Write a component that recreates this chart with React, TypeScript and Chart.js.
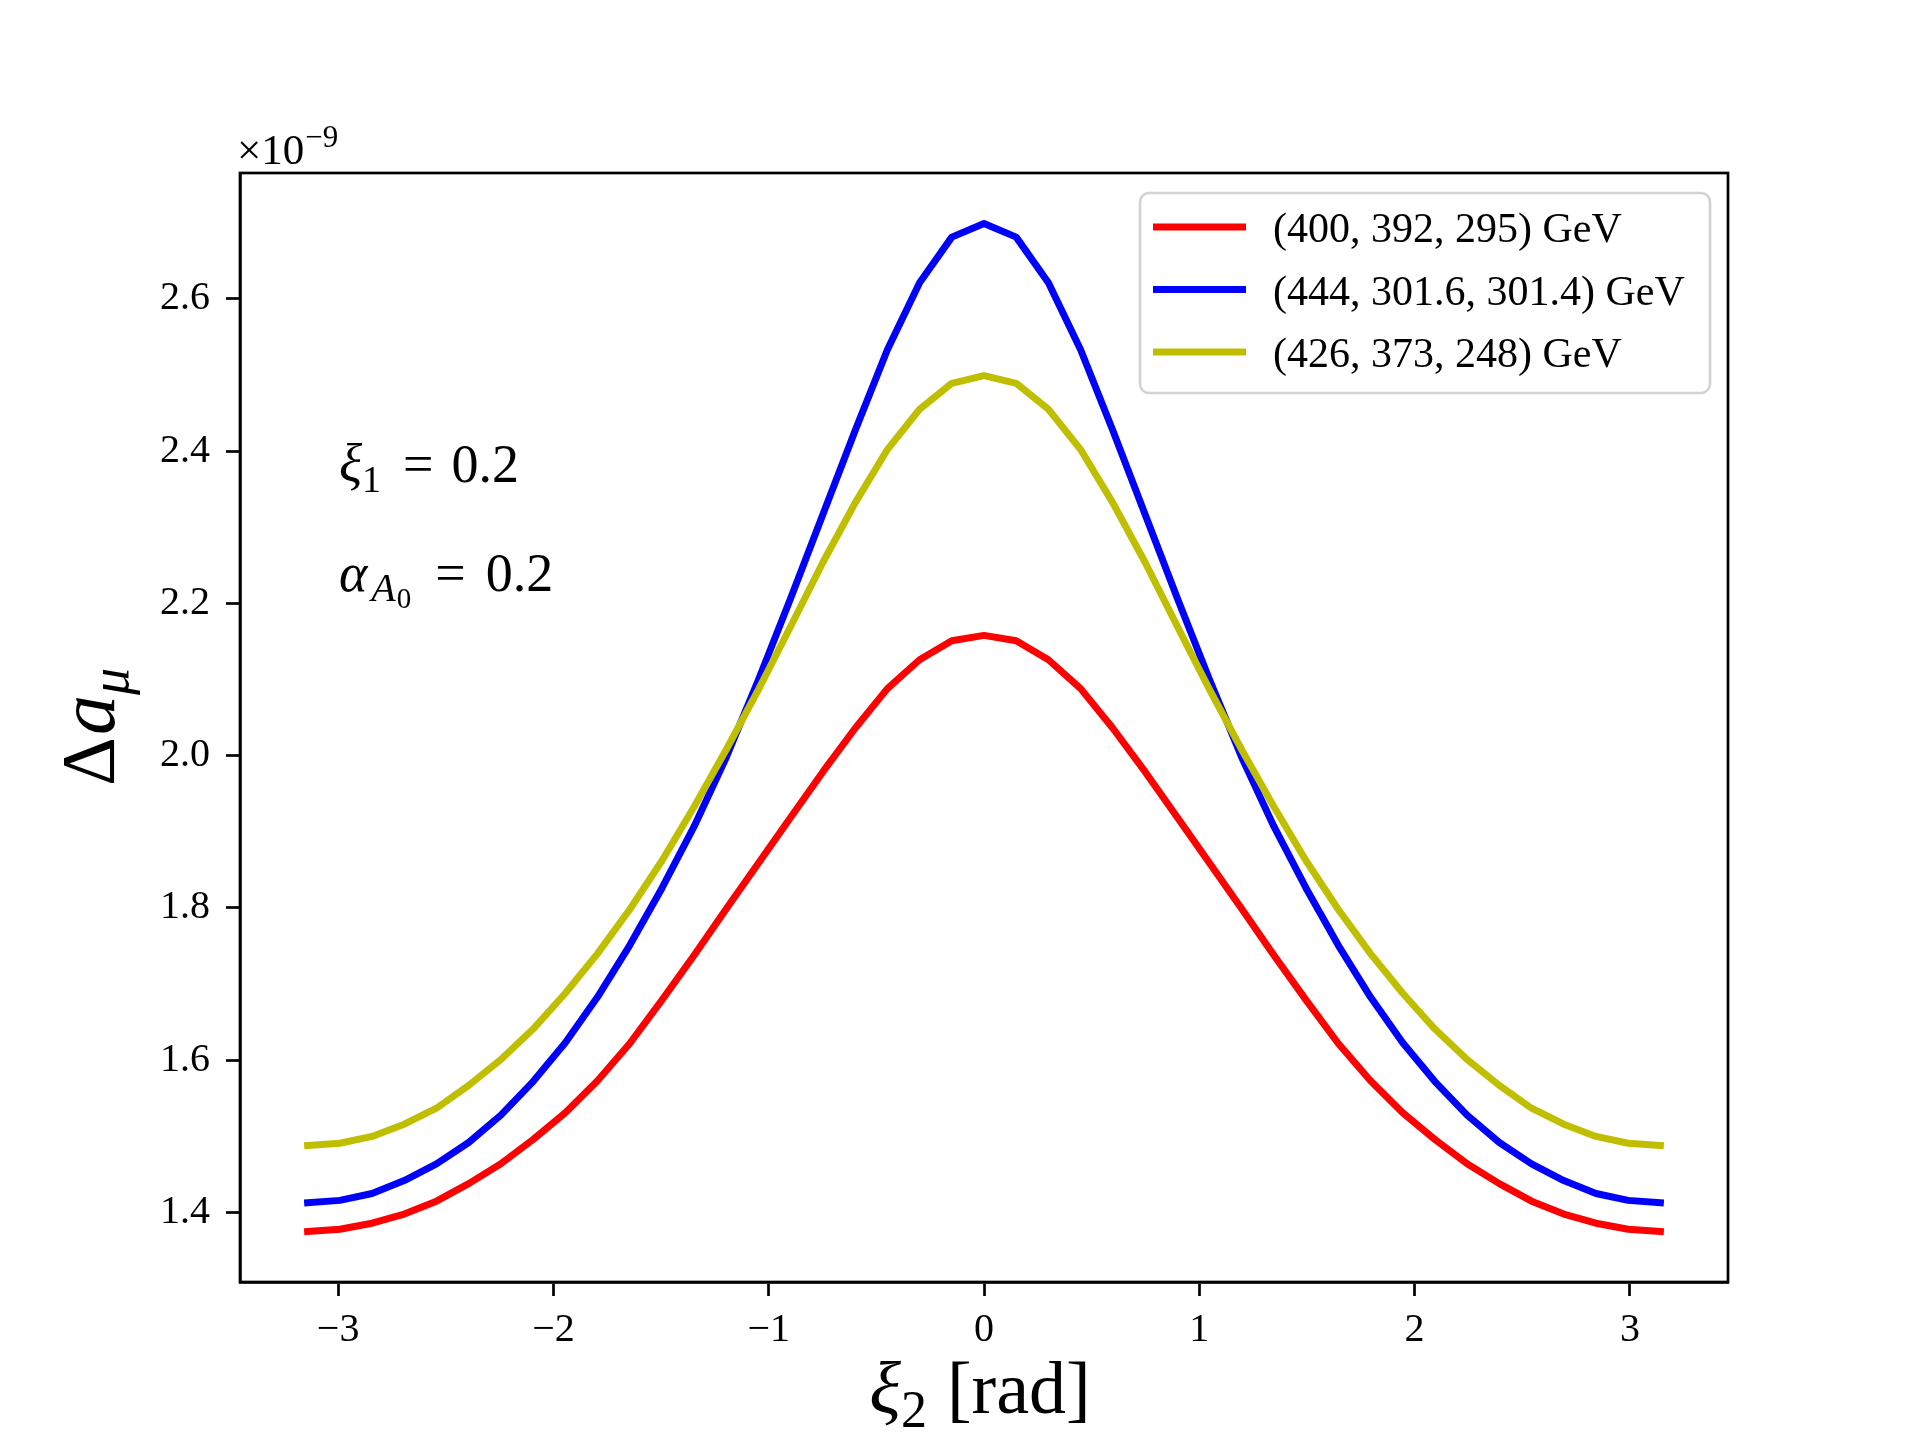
import React, { useEffect, useRef } from "react";
import { Chart, registerables } from "chart.js";

Chart.register(...registerables);

// xi_2 values [rad]
const XI2 = [
  -3.1416, -2.992, -2.8424, -2.6928, -2.5432, -2.3936, -2.244, -2.0944, -1.9448, -1.7952, -1.6456,
  -1.496, -1.3464, -1.1968, -1.0472, -0.8976, -0.748, -0.5984, -0.4488, -0.2992, -0.1496, 0,
  0.1496, 0.2992, 0.4488, 0.5984, 0.748, 0.8976, 1.0472, 1.1968, 1.3464, 1.496, 1.6456,
  1.7952, 1.9448, 2.0944, 2.244, 2.3936, 2.5432, 2.6928, 2.8424, 2.992, 3.1416,
];

// Delta a_mu in units of 1e-9
const RED = [
  1.375, 1.378, 1.386, 1.398, 1.415, 1.438, 1.464, 1.496, 1.531, 1.573, 1.622, 1.679, 1.738, 1.799,
  1.859, 1.919, 1.979, 2.036, 2.088, 2.126, 2.151, 2.158, 2.151, 2.126, 2.088, 2.036, 1.979, 1.919,
  1.859, 1.799, 1.738, 1.679, 1.622, 1.573, 1.531, 1.496, 1.464, 1.438, 1.415, 1.398, 1.386, 1.378,
  1.375,
];
const BLUE = [
  1.413, 1.416, 1.425, 1.442, 1.464, 1.492, 1.528, 1.572, 1.623, 1.683, 1.751, 1.826, 1.907, 1.998,
  2.1, 2.207, 2.317, 2.427, 2.533, 2.621, 2.681, 2.699, 2.681, 2.621, 2.533, 2.427, 2.317, 2.207,
  2.1, 1.998, 1.907, 1.826, 1.751, 1.683, 1.623, 1.572, 1.528, 1.492, 1.464, 1.442, 1.425, 1.416,
  1.413,
];
const YELLOW = [
  1.488, 1.491, 1.5, 1.516, 1.537, 1.567, 1.601, 1.641, 1.688, 1.74, 1.798, 1.862, 1.933, 2.008,
  2.087, 2.17, 2.254, 2.332, 2.402, 2.455, 2.489, 2.499, 2.489, 2.455, 2.402, 2.332, 2.254, 2.17,
  2.087, 2.008, 1.933, 1.862, 1.798, 1.74, 1.688, 1.641, 1.601, 1.567, 1.537, 1.516, 1.5, 1.491,
  1.488,
];

const SERIES_LABELS = ["(400, 392, 295) GeV", "(444, 301.6, 301.4) GeV", "(426, 373, 248) GeV"];
const SERIES_COLORS = ["#ff0000", "#0000ff", "#bfbf00"];
const SERIES_VALUES = [RED, BLUE, YELLOW];

const X_TICKS = [-3, -2, -1, 0, 1, 2, 3];
const Y_TICKS = [1.4, 1.6, 1.8, 2.0, 2.2, 2.4, 2.6];

const SERIF = '"Liberation Serif", "DejaVu Serif", serif';
const LINE_W = 7;
const AXIS_W = 2.7;

type Run = { t: string; size: number; italic?: boolean; dy?: number; gap?: number };

function drawRuns(ctx: CanvasRenderingContext2D, runs: Run[], x: number, y: number, measureOnly = false) {
  let cx = x;
  for (const r of runs) {
    cx += r.gap || 0;
    ctx.font = `${r.italic ? "italic " : ""}${r.size}px ${SERIF}`;
    if (!measureOnly) ctx.fillText(r.t, cx, y + (r.dy || 0));
    cx += ctx.measureText(r.t).width;
  }
  return cx - x;
}

const decorPlugin = {
  id: "decor",
  afterDraw(chart: any) {
    const ctx: CanvasRenderingContext2D = chart.ctx;
    const a = chart.chartArea;
    ctx.save();
    // frame
    ctx.strokeStyle = "#000";
    ctx.lineWidth = AXIS_W;
    ctx.strokeRect(a.left, a.top, a.right - a.left, a.bottom - a.top);

    ctx.fillStyle = "#000";
    ctx.textBaseline = "alphabetic";
    ctx.textAlign = "left";

    // offset text
    drawRuns(
      ctx,
      [
        { t: "×10", size: 43 },
        { t: "−9", size: 31, dy: -17, gap: 1 },
      ],
      a.left - 3,
      164
    );

    // annotations
    drawRuns(
      ctx,
      [
        { t: "ξ", size: 54, italic: true },
        { t: "1", size: 38, dy: 10 },
        { t: "=", size: 54, gap: 22 },
        { t: "0.2", size: 54, gap: 18 },
      ],
      a.left + 99,
      482
    );
    drawRuns(
      ctx,
      [
        { t: "α", size: 54, italic: true },
        { t: "A", size: 40, italic: true, dy: 10, gap: 4 },
        { t: "0", size: 29, dy: 17, gap: 1 },
        { t: "=", size: 54, gap: 24 },
        { t: "0.2", size: 54, gap: 20 },
      ],
      a.left + 99,
      591
    );

    // x title
    const xRuns: Run[] = [
      { t: "ξ", size: 74, italic: true },
      { t: "2", size: 52, dy: 14 },
      { t: "[rad]", size: 74, gap: 20 },
    ];
    const xw = drawRuns(ctx, xRuns, 0, 0, true);
    drawRuns(ctx, xRuns, (a.left + a.right) / 2 - 4 - xw / 2, 1413);

    // y title (rotated)
    const yRuns: Run[] = [
      { t: "Δ", size: 76 },
      { t: "a", size: 80, italic: true, gap: 2 },
      { t: "μ", size: 54, italic: true, dy: 14 },
    ];
    const yw = drawRuns(ctx, yRuns, 0, 0, true);
    ctx.save();
    ctx.translate(114, 727);
    ctx.rotate(-Math.PI / 2);
    drawRuns(ctx, yRuns, -yw / 2, 0);
    ctx.restore();

    // legend
    const bx = 1140,
      by = 193,
      bw = 570,
      bh = 200;
    ctx.beginPath();
    (ctx as any).roundRect(bx, by, bw, bh, 9);
    ctx.fillStyle = "rgba(255,255,255,0.85)";
    ctx.fill();
    ctx.strokeStyle = "#d3d3d3";
    ctx.lineWidth = AXIS_W;
    ctx.stroke();

    chart.data.datasets.forEach((ds: any, i: number) => {
      const ry = by + 34 + i * 62.5;
      ctx.strokeStyle = ds.borderColor;
      ctx.lineWidth = LINE_W;
      ctx.lineCap = "butt";
      ctx.beginPath();
      ctx.moveTo(bx + 13, ry);
      ctx.lineTo(bx + 106, ry);
      ctx.stroke();
      ctx.fillStyle = "#000";
      ctx.font = `42px ${SERIF}`;
      ctx.fillText(ds.label, bx + 133, ry + 15);
    });

    ctx.restore();
  },
};

export default function App() {
  const ref = useRef<HTMLCanvasElement | null>(null);

  useEffect(() => {
    if (!ref.current) return;
    const all = SERIES_VALUES.flat();
    const ymin = Math.min(...all);
    const ymax = Math.max(...all);
    const yr = ymax - ymin;
    const xmin = Math.min(...XI2);
    const xmax = Math.max(...XI2);
    const xr = xmax - xmin;

    const chart = new Chart(ref.current, {
      type: "line",
      data: {
        datasets: SERIES_VALUES.map((vals, i) => ({
          label: SERIES_LABELS[i],
          data: XI2.map((x, j) => ({ x, y: vals[j] })),
          borderColor: SERIES_COLORS[i],
          backgroundColor: SERIES_COLORS[i],
          borderWidth: LINE_W,
          pointRadius: 0,
          tension: 0,
          fill: false,
          borderCapStyle: "square",
          borderJoinStyle: "round",
          order: 2 - i,
        })),
      },
      options: {
        animation: false,
        responsive: false,
        devicePixelRatio: 1,
        events: [],
        layout: { padding: { left: 140, top: 173, right: 192, bottom: 78 } },
        plugins: {
          legend: { display: false },
          tooltip: { enabled: false },
          title: { display: false },
        },
        scales: {
          x: {
            type: "linear",
            min: xmin - 0.05 * xr,
            max: xmax + 0.05 * xr,
            afterBuildTicks: (s: any) => {
              s.ticks = X_TICKS.map((v) => ({ value: v }));
            },
            afterFit: (s: any) => {
              s.height = 80;
            },
            ticks: {
              autoSkip: false,
              maxRotation: 0,
              padding: 10,
              color: "#000",
              font: { family: SERIF, size: 40 },
              callback: (v: any) => (Number(v) < 0 ? "−" + Math.abs(Number(v)) : String(v)),
            },
            grid: {
              drawOnChartArea: false,
              drawTicks: true,
              tickLength: 14,
              tickWidth: AXIS_W,
              tickColor: "#000",
            },
            border: { display: true, color: "#000", width: AXIS_W },
          },
          y: {
            type: "linear",
            min: ymin - 0.05 * yr,
            max: ymax + 0.05 * yr,
            afterBuildTicks: (s: any) => {
              s.ticks = Y_TICKS.map((v) => ({ value: v }));
            },
            afterFit: (s: any) => {
              s.width = 100;
            },
            ticks: {
              autoSkip: false,
              padding: 16,
              color: "#000",
              font: { family: SERIF, size: 40 },
              callback: (v: any) => Number(v).toFixed(1),
            },
            grid: {
              drawOnChartArea: false,
              drawTicks: true,
              tickLength: 14,
              tickWidth: AXIS_W,
              tickColor: "#000",
            },
            border: { display: true, color: "#000", width: AXIS_W },
          },
        },
      } as any,
      plugins: [decorPlugin],
    });
    return () => chart.destroy();
  }, []);

  return (
    <div style={{ position: "absolute", left: 0, top: 0, width: 1920, height: 1440, background: "#fff" }}>
      <canvas ref={ref} width={1920} height={1440} style={{ display: "block", width: 1920, height: 1440 }} />
    </div>
  );
}
